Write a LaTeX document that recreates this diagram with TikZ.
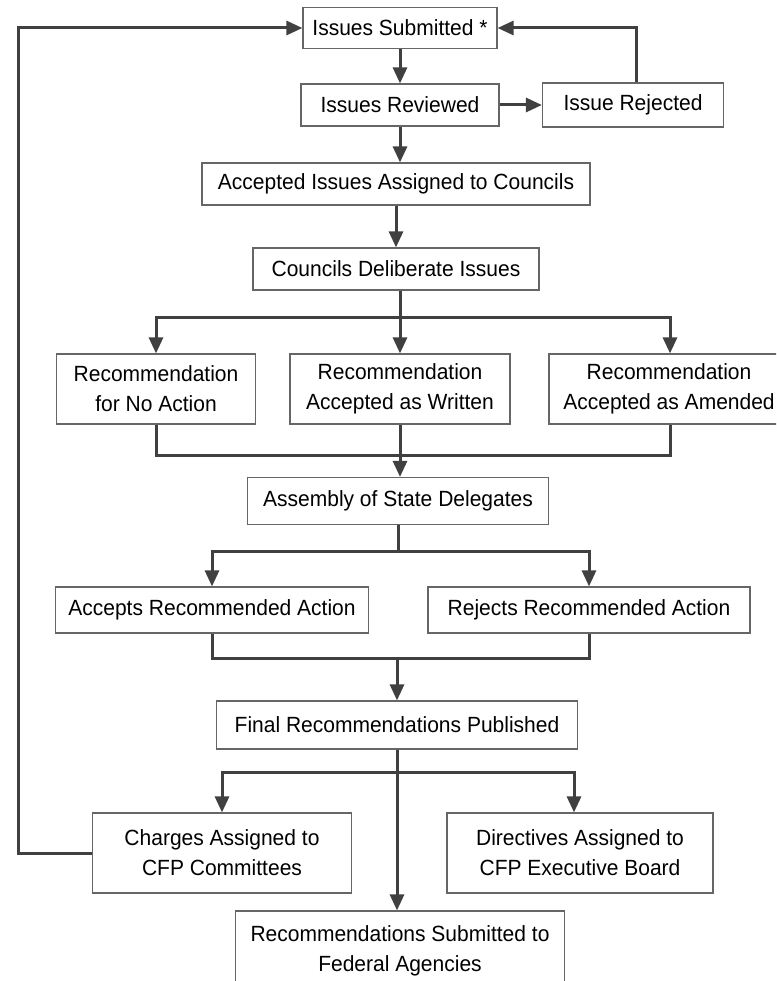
\documentclass[tikz,border=0pt]{standalone}
\usepackage{fontspec}
\setmainfont{Liberation Sans}[FakeStretch=0.955]
\usepackage{tikz}
\usetikzlibrary{arrows.meta, positioning}
\tikzstyle{box}=[rectangle, draw=black!60, line width=1.2pt, fill=white, align=center, inner sep=2pt, minimum height=42pt]
\tikzstyle{twoline}=[box, minimum height=80pt]
\tikzstyle{flow}=[->, draw=black!75, line width=3pt]
\tikzstyle{link}=[draw=black!75, line width=3pt]

\begin{document}
\begin{tikzpicture}[x=1pt, y=-1pt, >={Triangle[length=16pt,width=14pt]},
    font=\fontsize{22}{30}\selectfont]
    \useasboundingbox (0,0) rectangle (776,981);
    \clip (0,0) rectangle (776,981);

    % Submission and review.
    \node[box, minimum width=194pt, minimum height=41pt] (sub) at (400,28) {Issues Submitted *};
    \node[box, minimum width=198pt] (rev) [below of=sub, node distance=77pt] {Issues Reviewed};
    \node[box, minimum width=181pt, minimum height=44pt] (rej) [right of=rev, node distance=233pt] {Issue Rejected};
    \node[box, minimum width=388pt] (acc) [below of=rev, node distance=79pt, xshift=-4pt] {Accepted Issues Assigned to Councils};
    \node[box, minimum width=286pt] (del) [below of=acc, node distance=85pt] {Councils Deliberate Issues};

    % Council outcomes.
    \node[box, minimum width=220pt, minimum height=70pt] (raw) [below of=del, node distance=120pt, xshift=4pt] {Recommendation\\Accepted as Written};
    \node[box, minimum width=199pt, minimum height=70pt] (rna) [left of=raw, node distance=244pt] {Recommendation\\for No Action};
    \node[box, minimum width=240pt, minimum height=70pt] (ram) [right of=raw, node distance=269pt] {Recommendation\\Accepted as Amended};

    % Assembly.
    \node[box, minimum width=301pt, minimum height=47pt] (asm) [below of=raw, node distance=112pt, xshift=-2pt] {Assembly of State Delegates};
    \node[box, minimum width=313pt, minimum height=46pt] (acca) [below of=asm, node distance=109pt, xshift=-186pt] {Accepts Recommended Action};
    \node[box, minimum width=322pt, minimum height=46pt] (reja) [below of=asm, node distance=109pt, xshift=191pt] {Rejects Recommended Action};

    % Results.
    \node[box, minimum width=361pt, minimum height=48pt] (fin) [below of=asm, node distance=224pt, xshift=-1pt] {Final Recommendations Published};
    \node[twoline, minimum width=259pt] (chg) [below of=fin, node distance=128pt, xshift=-175pt] {Charges Assigned to\\CFP Committees};
    \node[twoline, minimum width=266pt] (dir) [below of=fin, node distance=128pt, xshift=183pt] {Directives Assigned to\\CFP Executive Board};
    \node[twoline, minimum width=329pt] (fed) [below of=fin, node distance=226pt, xshift=3pt] {Recommendations Submitted to\\Federal Agencies};

    % Connectors.
    \draw[flow] (sub.south) -- (sub.south |- rev.north);
    \draw[flow] (rev.east) -- (rej.west);
    \draw[flow] ([xshift=3pt]rej.north) |- (sub.east);
    \draw[flow] (rev.south) -- (rev.south |- acc.north);
    \draw[flow] (acc.south) -- (del.north);

    \draw[flow] (raw.north |- del.south) -- (raw.north);
    \draw[flow] (raw.north) ++(0,-36) -| (rna.north);
    \draw[flow] (raw.north) ++(0,-36) -| ([xshift=1pt]ram.north);

    \draw[link] (rna.south) -- ++(0,31) -| ([xshift=1pt]ram.south);
    \draw[flow] (raw.south) -- (raw.south |- asm.north);

    \draw[flow] (asm.south) -- ++(0,26) -| (acca.north);
    \draw[flow] (asm.south) -- ++(0,26) -| (reja.north);

    \draw[link] (acca.south) -- ++(0,25) -| (reja.south);
    \draw[flow] (fin.north |- acca.south) ++(0,25) -- (fin.north);

    \draw[flow] (fin.south) -- ++(0,23) -| (chg.north);
    \draw[flow] (fin.south) -- ++(0,23) -| ([xshift=-6pt]dir.north);
    \draw[flow] (fin.south) -- (fin.south |- fed.north);

    \draw[flow] (chg.west) -- ++(-73,0) |- (sub.west);
  \end{tikzpicture}
\end{document}
